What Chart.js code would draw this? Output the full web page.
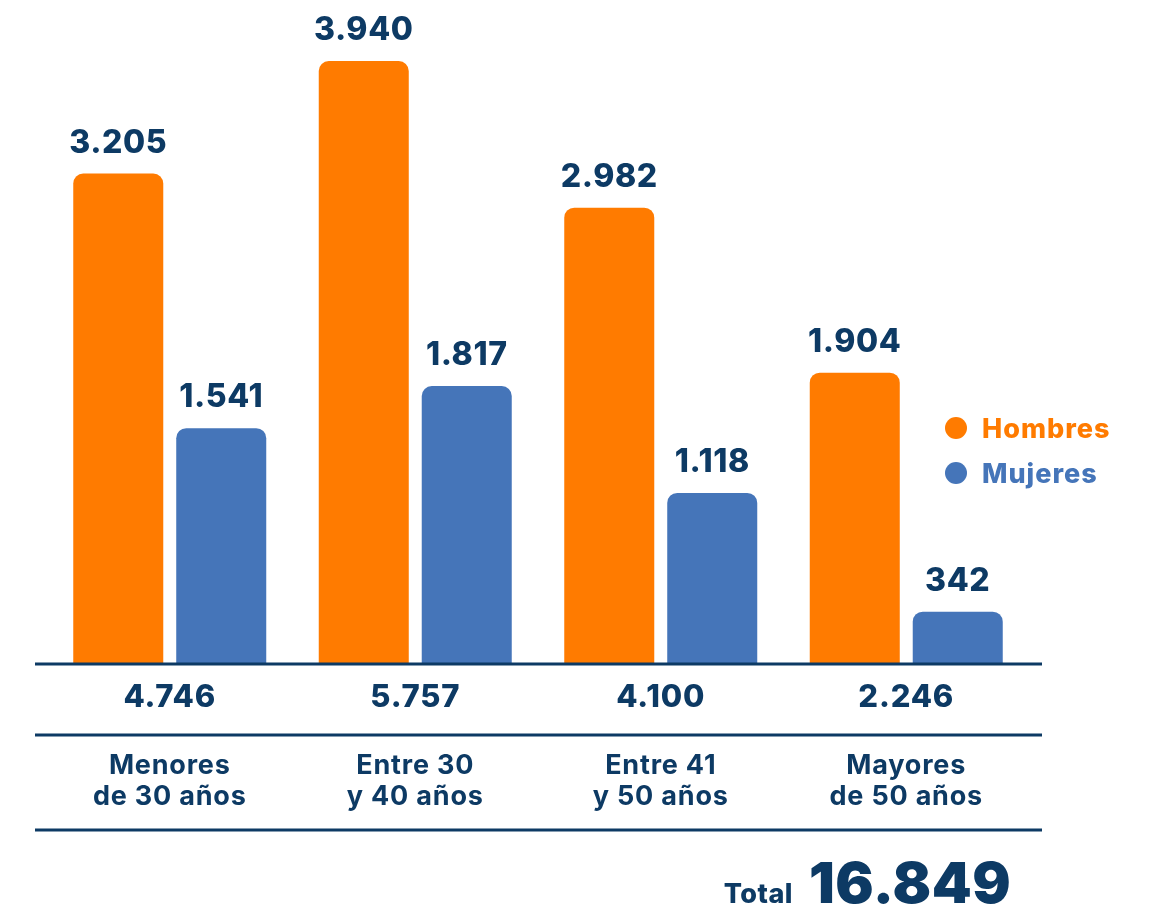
<!DOCTYPE html>
<html lang="es">
<head>
<meta charset="utf-8">
<title>Plantilla por edad y sexo</title>
<script src="https://cdn.jsdelivr.net/npm/chart.js@4.4.1/dist/chart.umd.min.js"></script>
<style>
  html, body { margin: 0; padding: 0; background: #ffffff; }
  #wrap { position: relative; width: 1152px; height: 910px; }
</style>
</head>
<body>
<div id="wrap"><canvas id="chart" width="1152" height="910"></canvas></div>
<script>
  // age bands, each label split in two lines
  var categories = [
    ['Menores', 'de 30 años'],
    ['Entre 30', 'y 40 años'],
    ['Entre 41', 'y 50 años'],
    ['Mayores', 'de 50 años']
  ];
  var hombres = [3205, 3940, 2982, 1904];
  var mujeres = [1541, 1817, 1118, 342];
  var seriesNames = ['Hombres', 'Mujeres'];

  var ORANGE = '#ff7b00';
  var BLUE = '#4575b9';
  var NAVY = '#0d3a64';
  var FONT = "Inter, 'Open Sans', sans-serif";

  // 4.746 style thousands separator
  function fmt(n) {
    return String(n).replace(/\B(?=(\d{3})+(?!\d))/g, '.');
  }

  var totals = hombres.map(function (h, i) { return h + mujeres[i]; });
  var grandTotal = totals.reduce(function (a, b) { return a + b; }, 0);

  function spacing(ctx, px) {
    if ('letterSpacing' in ctx) ctx.letterSpacing = px + 'px';
  }

  // table lines, value labels, row of totals, legend and grand total
  var decor = {
    id: 'decor',
    afterDatasetsDraw: function (chart) {
      var ctx = chart.ctx;
      var xs = chart.scales.x;
      ctx.save();

      // numbers above each bar
      ctx.fillStyle = NAVY;
      ctx.textAlign = 'center';
      ctx.textBaseline = 'alphabetic';
      ctx.font = '800 32px ' + FONT;
      spacing(ctx, 0.6);
      chart.data.datasets.forEach(function (ds, di) {
        chart.getDatasetMeta(di).data.forEach(function (bar, i) {
          ctx.fillText(fmt(ds.data[i]), bar.x, bar.y - 21);
        });
      });

      // horizontal rules
      ctx.strokeStyle = NAVY;
      ctx.lineWidth = 3;
      [664, 735, 830].forEach(function (y) {
        ctx.beginPath();
        ctx.moveTo(35, y);
        ctx.lineTo(1042, y);
        ctx.stroke();
      });

      // per-band totals and band names
      categories.forEach(function (lines, i) {
        var cx = xs.getPixelForValue(i);
        ctx.font = '800 31px ' + FONT;
        spacing(ctx, 0.8);
        ctx.fillText(fmt(totals[i]), cx, 707);
        ctx.font = '700 27px ' + FONT;
        spacing(ctx, 0.8);
        ctx.fillText(lines[0], cx, 774);
        ctx.fillText(lines[1], cx, 805);
      });

      // legend
      ctx.textAlign = 'left';
      ctx.font = '800 27px ' + FONT;
      spacing(ctx, 1);
      chart.data.datasets.forEach(function (ds, di) {
        var y = 428 + di * 45;
        ctx.fillStyle = ds.backgroundColor;
        ctx.beginPath();
        ctx.arc(956, y, 11, 0, Math.PI * 2);
        ctx.fill();
        ctx.fillText(ds.label, 982, y + 10);
      });

      // grand total
      ctx.fillStyle = NAVY;
      ctx.textAlign = 'right';
      ctx.font = '800 27px ' + FONT;
      spacing(ctx, 0.5);
      ctx.fillText('Total', 793, 903);
      ctx.textAlign = 'left';
      ctx.font = '900 57px ' + FONT;
      spacing(ctx, 0.5);
      ctx.fillText(fmt(grandTotal), 809, 903);

      ctx.restore();
    }
  };

  new Chart(document.getElementById('chart'), {
    type: 'bar',
    data: {
      labels: categories,
      datasets: [
        { label: seriesNames[0], data: hombres, backgroundColor: ORANGE },
        { label: seriesNames[1], data: mujeres, backgroundColor: BLUE }
      ]
    },
    options: {
      responsive: false,
      animation: false,
      layout: { padding: { left: 47, right: 123, top: 6, bottom: 246 } },
      datasets: {
        bar: {
          categoryPercentage: 0.839,
          barPercentage: 0.874,
          borderRadius: { topLeft: 10, topRight: 10 },
          borderSkipped: 'start'
        }
      },
      plugins: { legend: { display: false }, tooltip: { enabled: false } },
      scales: {
        x: { display: false },
        y: { display: false, min: 0, max: 4300 }
      }
    },
    plugins: [decor]
  });
</script>
</body>
</html>
